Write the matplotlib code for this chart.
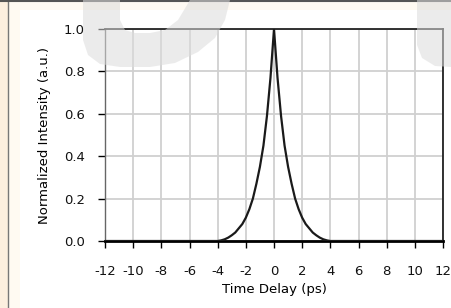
import matplotlib
matplotlib.use("Agg")
import matplotlib.pyplot as plt
from matplotlib.patches import Polygon, Rectangle

plt.rcParams['font.family'] = ['DejaVu Sans']

# === data ===
delay_ps = [-12, -4.0, -3.75, -3.5, -3.25, -3.0, -2.75, -2.5, -2.25, -2.0, -1.75, -1.5,
            -1.25, -1.0, -0.75, -0.5, -0.25, 0.0,
            0.25, 0.5, 0.75, 1.0, 1.25, 1.5, 1.75, 2.0, 2.25, 2.5, 2.75, 3.0,
            3.25, 3.5, 3.75, 4.0, 12]
intensity = [0, 0, 0.003, 0.008, 0.016, 0.027, 0.04, 0.06, 0.08, 0.11, 0.15, 0.20,
             0.27, 0.35, 0.45, 0.59, 0.77, 1.0,
             0.77, 0.59, 0.45, 0.35, 0.27, 0.20, 0.15, 0.11, 0.08, 0.06, 0.04, 0.027,
             0.016, 0.008, 0.003, 0, 0]
x_ticks = [-12, -10, -8, -6, -4, -2, 0, 2, 4, 6, 8, 10, 12]
y_ticks = [0.0, 0.2, 0.4, 0.6, 0.8, 1.0]

W, H = 451, 308
fig = plt.figure(figsize=(W / 100, H / 100), dpi=100, facecolor='#fffaf2')


def px(x, y):
    return (x / W, 1 - y / H)


# page frame
fig.patches.append(Rectangle(px(0, H), 8 / W, 1, transform=fig.transFigure,
                             facecolor='#fcefdf', edgecolor='none', zorder=-2))
fig.patches.append(Rectangle(px(20, H), (W - 20) / W, (H - 10) / H, transform=fig.transFigure,
                             facecolor='white', edgecolor='none', zorder=-2))
fig.lines.append(plt.Line2D([8 / W, 8 / W], [0, 1], transform=fig.transFigure,
                            color='#777777', lw=1, zorder=-1))
fig.lines.append(plt.Line2D([0, 1], [1 - 0.5 / H] * 2, transform=fig.transFigure,
                            color='#555555', lw=1.5, zorder=-1))

ax = fig.add_axes([105 / W, 67 / H, 338 / W, 212 / H])
ax.set_facecolor('none')
ax.set_zorder(2)

ax.plot(delay_ps, intensity, color='#1a1a1a', lw=1.6, zorder=3)

ax.set_xlim(-12, 12)
ax.set_ylim(0, 1)
ax.set_xticks(x_ticks)
ax.set_yticks(y_ticks)
ax.set_xticklabels([str(t) for t in x_ticks])
ax.set_yticklabels([f"{t:.1f}" for t in y_ticks])
ax.grid(True, color='#d0d0d0', lw=1.3, zorder=0)
ax.set_axisbelow(True)
ax.tick_params(axis='both', direction='out', length=5, width=1, color='black',
               labelsize=9.5, labelcolor='#111111')
ax.tick_params(axis='x', pad=12)
ax.tick_params(axis='y', pad=9.5)
for s in ['top', 'right']:
    ax.spines[s].set_linewidth(1.3)
    ax.spines[s].set_color('#222222')
ax.spines['bottom'].set_linewidth(2)
ax.spines['bottom'].set_color('black')
ax.spines['left'].set_linewidth(1)
ax.spines['left'].set_color('#666666')

ax.set_xlabel('Time Delay (ps)', fontsize=9.5, labelpad=4)
ax.set_ylabel('Normalized Intensity (a.u.)', fontsize=9.5, labelpad=9)

# watermark shapes (semi-transparent overlay)
u_shape = [(83, 0), (83, 40), (88, 55), (100, 64), (120, 67), (150, 67), (175, 63),
           (198, 52), (215, 38), (225, 20), (230, 0),
           (190, 0), (178, 20), (165, 30), (150, 33), (135, 33), (125, 30), (120, 20), (120, 0)]
corner = [(417, 0), (417, 45), (422, 58), (435, 66), (451, 67), (451, 0)]
for shape in (u_shape, corner):
    fig.patches.append(Polygon([px(x, y) for x, y in shape], closed=True,
                               transform=fig.transFigure, facecolor='#dcdcdc',
                               edgecolor='none', alpha=0.55, zorder=10))

fig.savefig("out.png", dpi=100, facecolor=fig.get_facecolor())
